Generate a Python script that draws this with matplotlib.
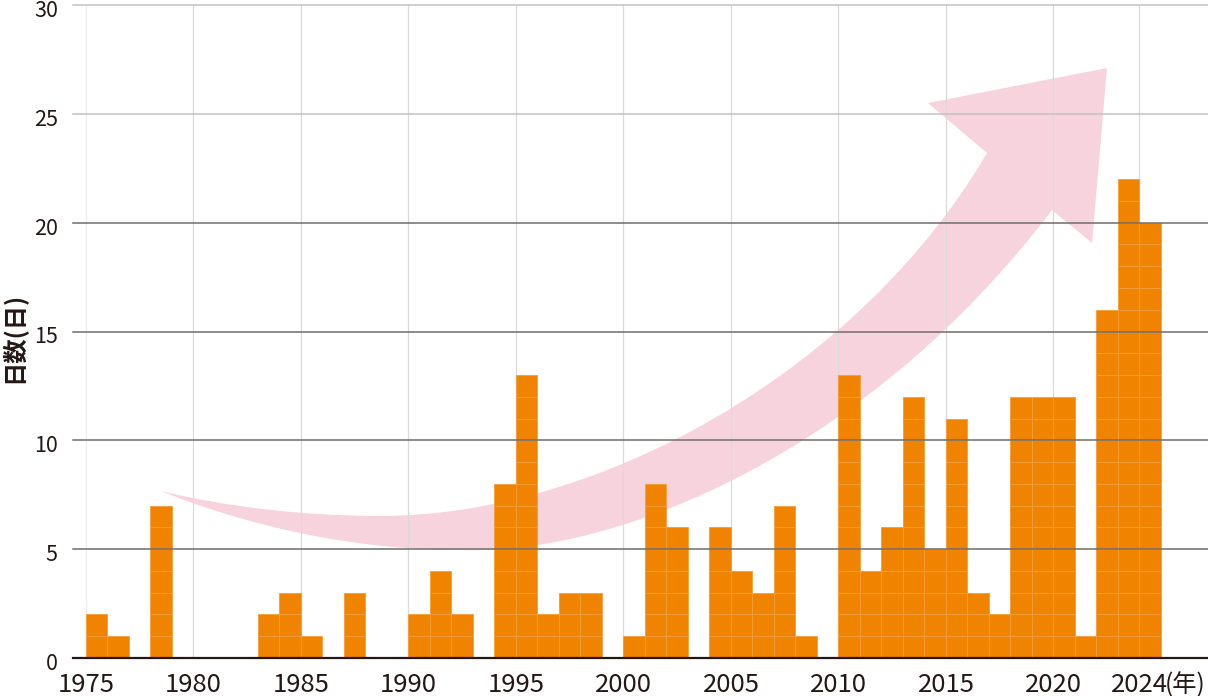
import matplotlib.pyplot as plt
import numpy as np
from matplotlib.path import Path
from matplotlib.patches import PathPatch
from matplotlib.transforms import Affine2D, ScaledTranslation

plt.rcParams['font.family'] = ['Noto Sans CJK JP', 'DejaVu Sans']

years = np.arange(1975, 2025)
days = np.array([
    2, 1, 0, 7, 0, 0, 0, 0, 2, 3,      # 1975-1984
    1, 0, 3, 0, 0, 2, 4, 2, 0, 8,      # 1985-1994
    13, 2, 3, 3, 0, 1, 8, 6, 0, 6,     # 1995-2004
    4, 3, 7, 1, 0, 13, 4, 6, 12, 5,    # 2005-2014
    11, 3, 2, 12, 12, 12, 1, 16, 22, 20  # 2015-2024
])
x_ticks = [1975, 1980, 1985, 1990, 1995, 2000, 2005, 2010, 2015, 2020, 2024]
y_ticks = [0, 5, 10, 15, 20, 25, 30]

orange = '#f08300'
text_col = '#231815'

fig = plt.figure(figsize=(12.08, 6.96), dpi=100)
ax = fig.add_axes([73/1208, 38/696, 1135/1208, 653/696])
ax.set_xlim(1975 - 13/21.5, 1975 + 1122/21.5)
ax.set_ylim(0, 30)

# pink arrow in the background, drawn in pixel space of the picture
verts = [
    (161, 491),
    (230, 508), (310, 516), (380, 516),
    (600, 516), (860, 370), (987, 153),
    (928, 103), (1107, 68), (1092, 243), (1052, 210),
    (870, 450), (620, 556), (460, 550),
    (330, 550), (220, 515), (161, 491),
    (161, 491),
]
codes = [Path.MOVETO] + [Path.CURVE4] * 6 + [Path.LINETO] * 4 + \
        [Path.CURVE4] * 6 + [Path.CLOSEPOLY]
px = Affine2D().scale(1/1208, -1/696).translate(0, 1) + fig.transFigure
arrow = PathPatch(Path(verts, codes), facecolor='#f7d3de', edgecolor='none',
                  transform=px, zorder=1, clip_on=False)
ax.add_patch(arrow)

# vertical grid
for x in x_ticks:
    ax.axvline(x, color='#ededed' if x == 1975 else '#dadada', lw=0.9, zorder=1.5)

# bars, built from unit blocks so the light cell lines show
for k in range(days.max()):
    h = np.clip(days - k, 0, 1)
    m = h > 0
    ax.bar(years[m], h[m], bottom=k, width=1, align='edge', color=orange,
           edgecolor='#f39e3c', linewidth=0.6, zorder=2)

# horizontal grid over the bars
for y in y_ticks[1:]:
    ax.axhline(y, color='#c2c2c2' if y >= 25 else '#726c6a', lw=1.1,
               zorder=3, clip_on=False)

for s in ['top', 'right', 'left']:
    ax.spines[s].set_visible(False)
ax.spines['bottom'].set_color(text_col)
ax.spines['bottom'].set_linewidth(1.6)
ax.spines['bottom'].set_zorder(4)

ax.set_yticks(y_ticks)
ax.set_xticks(x_ticks)
ax.set_xticklabels([str(x) for x in x_ticks])
ax.tick_params(axis='y', length=0, pad=11, labelsize=15.5, labelcolor=text_col)
ax.tick_params(axis='x', length=0, pad=10, labelsize=18.5, labelcolor=text_col)
shift = ScaledTranslation(0, -2.5/72, fig.dpi_scale_trans)
for lab in ax.get_yticklabels():
    lab.set_transform(lab.get_transform() + shift)

ax.annotate('(年)', xy=(2024, 0), xycoords='data', xytext=(18, -10),
            textcoords='offset points', ha='left', va='top',
            fontsize=17.5, color=text_col, annotation_clip=False)

fig.text(12.5/1208, 1 - 337/696, '日数(日)', rotation=90, ha='center',
         va='center', fontsize=17.5, fontweight='bold', color=text_col)

fig.savefig('out.png', dpi=100)
